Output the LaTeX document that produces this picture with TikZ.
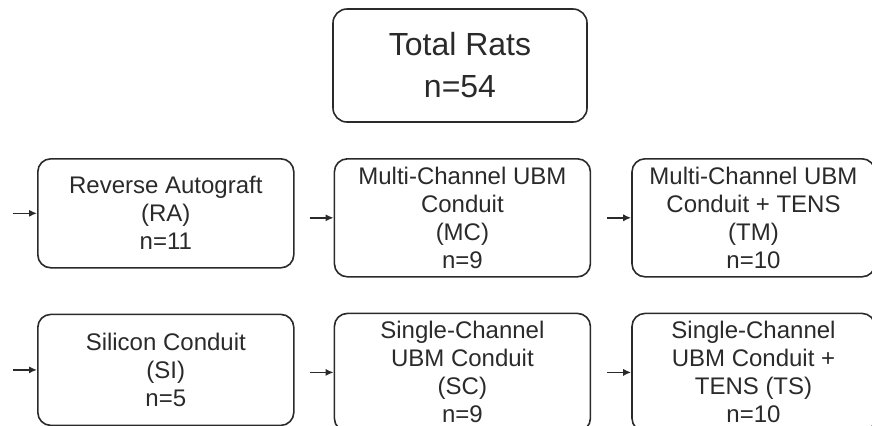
\documentclass[tikz,border=0pt]{standalone}
\usepackage{fontspec}
\setmainfont{Liberation Sans}
\usepackage{xcolor}
\usepackage{tikz}
\usetikzlibrary{arrows.meta,positioning,calc}

\definecolor{inkgray}{HTML}{2A2A2A}

\begin{document}
\begin{tikzpicture}[
    box/.style={draw=inkgray, line width=0.8pt, rectangle, rounded corners=6.5pt, align=center, inner sep=0pt,
        text=inkgray, font=\fontsize{12pt}{14pt}\selectfont, minimum width=128pt, minimum height=59pt},
    topbox/.style={box, font=\fontsize{16pt}{21pt}\selectfont, rounded corners=7pt, minimum width=127pt, minimum height=56.5pt},
    arrow/.style={-{Latex[length=4pt, width=3.6pt]}, line width=0.8pt, inkgray},
]
    \clip (0,0) rectangle (436pt,-212.5pt);

    % Total at the top
    \node[topbox] (total) at (230pt,-32.75pt) {Total Rats\\n=54};

    % Multi-channel row
    \node[box, anchor=north west, minimum height=54.5pt] (ra) at (18.5pt,-79pt) {Reverse Autograft\\(RA)\\n=11};
    \node[box, right=19.5pt of ra.north east, anchor=north west] (mc) {Multi-Channel UBM\\Conduit\\(MC)\\n=9};
    \node[box, right=20pt of mc.north east, anchor=north west, minimum width=121.5pt] (tm) {Multi-Channel UBM\\Conduit + TENS\\(TM)\\n=10};

    % Single-channel row
    \node[box, below=22.5pt of ra.south west, anchor=north west, minimum height=55.5pt] (si) {Silicon Conduit\\(SI)\\n=5};
    \node[box, below=17.5pt of mc.south west, anchor=north west] (sc) {Single-Channel\\UBM Conduit\\(SC)\\n=9};
    \node[box, below=17.5pt of tm.south west, anchor=north west, minimum width=121.5pt] (ts) {Single-Channel\\UBM Conduit +\\TENS (TS)\\n=10};

    % Arrows
    \foreach \g in {ra,mc,tm,si,sc,ts} {
        \coordinate (\g In) at ([xshift=-12pt]\g.west);
        \draw[arrow] (\g In) -- (\g);
    }

\end{tikzpicture}
\end{document}
